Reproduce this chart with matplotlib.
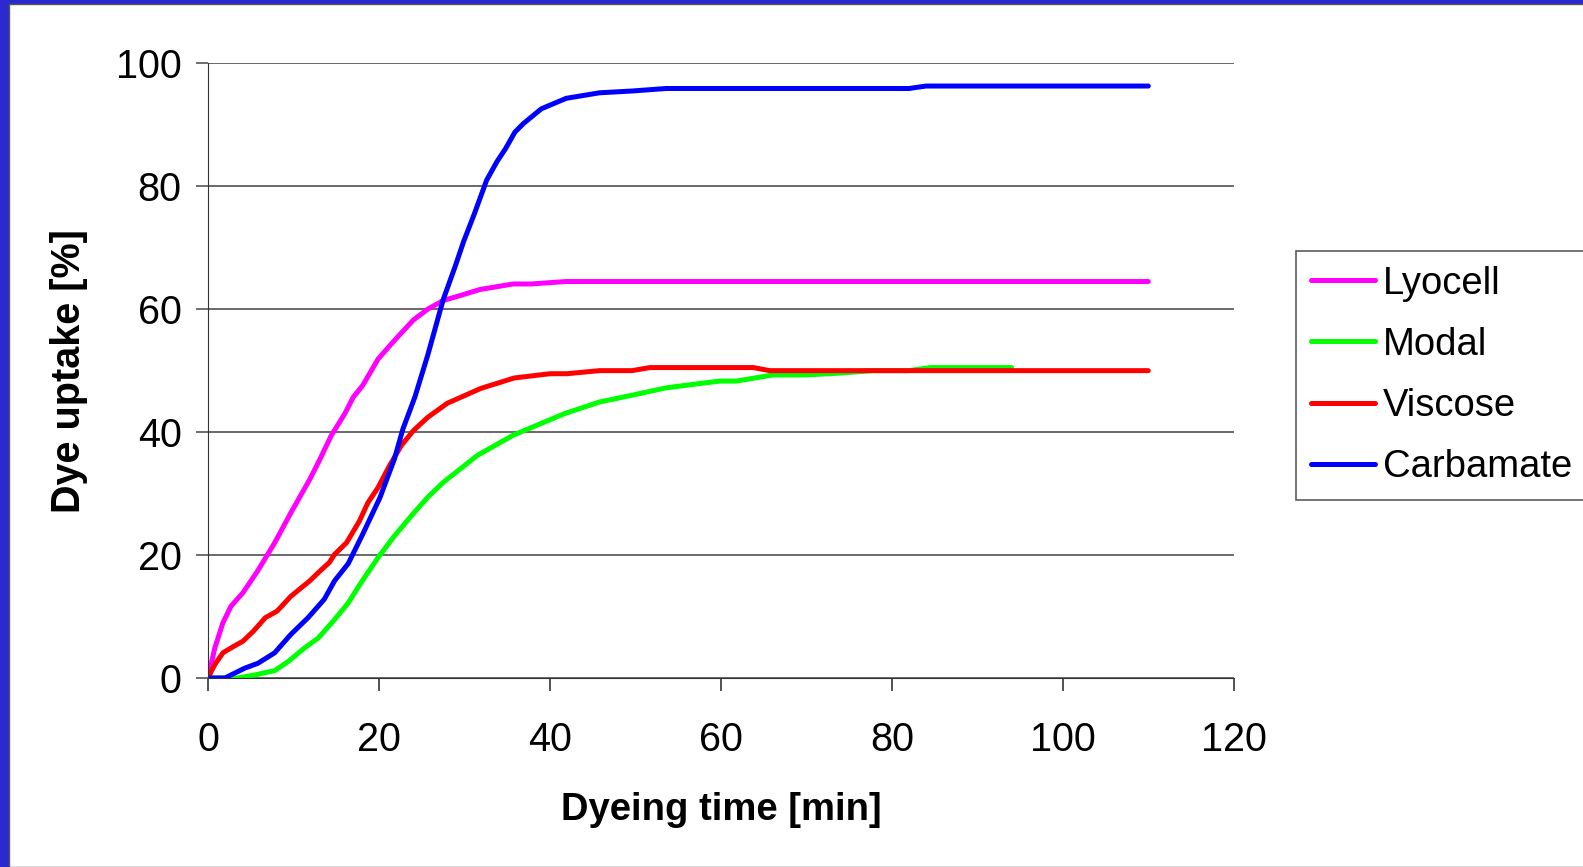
import matplotlib
matplotlib.use('Agg')
import matplotlib.pyplot as plt
from matplotlib.patches import Rectangle

plt.rcParams['font.family'] = ['Liberation Sans', 'DejaVu Sans']

# Lyocell (magenta)
lyo_x = [0, 0.8, 1.75, 2.7, 4.1, 5.8, 7.8, 9.7, 11.9, 13.1, 14.4, 16, 17, 18.1, 19.9,
         21.8, 24, 25.7, 27.5, 29.7, 31.8, 35.7, 37.8, 41.9, 110]
lyo_y = [0, 4.9, 9, 11.7, 13.9, 17.4, 22, 26.9, 32.3, 35.6, 39.4, 43, 45.7, 47.6, 51.9,
         54.9, 58.2, 60, 61.4, 62.3, 63.2, 64.1, 64.1, 64.5, 64.5]

# Modal (green)
mod_x = [0, 3.5, 5.5, 7.8, 9.4, 11.3, 12.9, 14.8, 16.4, 17.9, 19.9, 21.8, 23.8, 25.7,
         27.5, 29.5, 31.5, 35.7, 41.7, 45.8, 49.6, 53.6, 57.5, 59.9, 61.8, 66.1, 70,
         73.9, 77.8, 82, 84.5, 94]
mod_y = [0, 0, 0.5, 1.2, 2.7, 4.9, 6.5, 9.5, 12.2, 15.5, 19.6, 23.1, 26.4, 29.4,
         31.8, 34, 36.2, 39.5, 43, 44.9, 46, 47.2, 47.9, 48.3, 48.3, 49.3, 49.3,
         49.6, 50, 50, 50.5, 50.5]

# Viscose (red)
vis_x = [0, 0.8, 1.75, 2.7, 4.1, 5.3, 6.7, 8.1, 9.7, 11.9, 13.1, 14.2, 14.8, 16.2, 17.7,
         18.7, 19.9, 21.1, 22.6, 24, 25.7, 27.5, 28, 31.9, 35.8, 40, 42, 45.8, 49.6,
         51.7, 63.8, 65.7, 110]
vis_y = [0, 2.2, 4.1, 4.9, 6, 7.6, 9.8, 10.9, 13.3, 15.8, 17.4, 18.8, 20.1, 22, 25.5,
         28.5, 31, 34.2, 37.8, 40.2, 42.4, 44.2, 44.7, 47.1, 48.8, 49.5, 49.5, 50, 50,
         50.5, 50.5, 50, 50]

# Carbamate (blue)
car_x = [0, 2, 2.7, 4.3, 5.85, 7.8, 9.7, 11.7, 13.6, 14.8, 16.4, 18.1, 20.1, 21.8, 22.8,
         24.2, 25.7, 26.9, 27.5, 28.9, 29.9, 31.1, 32.6, 33.8, 34.8, 35.9, 36.9, 39,
         41.9, 45.8, 49.7, 53.6, 82, 84, 110]
car_y = [0, 0, 0.5, 1.6, 2.4, 4.1, 7.1, 9.8, 12.8, 15.8, 18.6, 23.4, 29.3, 35.6, 40.5,
         45.7, 52.5, 58.5, 61.5, 66.9, 71, 75.3, 81, 84, 86.1, 88.8, 90.2, 92.6,
         94.3, 95.2, 95.5, 95.9, 95.9, 96.3, 96.3]

x_ticks = [0, 20, 40, 60, 80, 100, 120]
y_ticks = [0, 20, 40, 60, 80, 100]

fig = plt.figure(figsize=(15.83, 8.67), dpi=100, facecolor='#2a2ad0')
# white slide area inside the blue frame
fig.patches.append(Rectangle((9 / 1583, 0), 1, 1 - 4 / 867, transform=fig.transFigure,
                             facecolor='white', edgecolor='#555555', lw=1, zorder=-5))

ax = fig.add_axes([0.1314, 0.218, 0.648, 0.709])
ax.set_zorder(2)
ax.set_facecolor('none')

lw = 3.6
ax.plot(lyo_x, lyo_y, color='#ff00ff', lw=lw, label='Lyocell', solid_capstyle='round')
ax.plot(mod_x, mod_y, color='#00ff00', lw=lw, label='Modal', solid_capstyle='round')
ax.plot(vis_x, vis_y, color='#ff0000', lw=lw, label='Viscose', solid_capstyle='round')
ax.plot(car_x, car_y, color='#0000ff', lw=lw, label='Carbamate', solid_capstyle='round')

ax.set_xlim(0, 120)
ax.set_ylim(0, 100)
ax.set_xticks(x_ticks)
ax.set_yticks(y_ticks)
ax.yaxis.grid(True, color='#505050', lw=1.2)
ax.set_axisbelow(True)
for s in ['top', 'right']:
    ax.spines[s].set_visible(False)
ax.spines['left'].set_color('#333333')
ax.spines['bottom'].set_color('#333333')
ax.tick_params(axis='both', labelsize=28.5, colors='black', length=9, width=1.2, direction='out')
ax.tick_params(axis='y', pad=10, color='#555555')
ax.tick_params(axis='x', pad=22, color='#333333')

ax.set_xlabel('Dyeing time [min]', fontsize=27.5, fontweight='bold', labelpad=24)
ax.set_ylabel('Dye uptake [%]', fontsize=28.5, fontweight='bold', labelpad=20)

leg = fig.legend(loc='upper left', bbox_to_anchor=(1296 / 1583, 1 - 251 / 867),
                 fontsize=27.5, frameon=True, fancybox=False, handlelength=1.7,
                 handletextpad=0.2, labelspacing=0.66, borderpad=0.38, borderaxespad=0)
leg.get_frame().set_edgecolor('#333333')
leg.get_frame().set_linewidth(1.2)
for line in leg.get_lines():
    line.set_linewidth(lw)

fig.savefig('out.png', dpi=100, facecolor=fig.get_facecolor())
